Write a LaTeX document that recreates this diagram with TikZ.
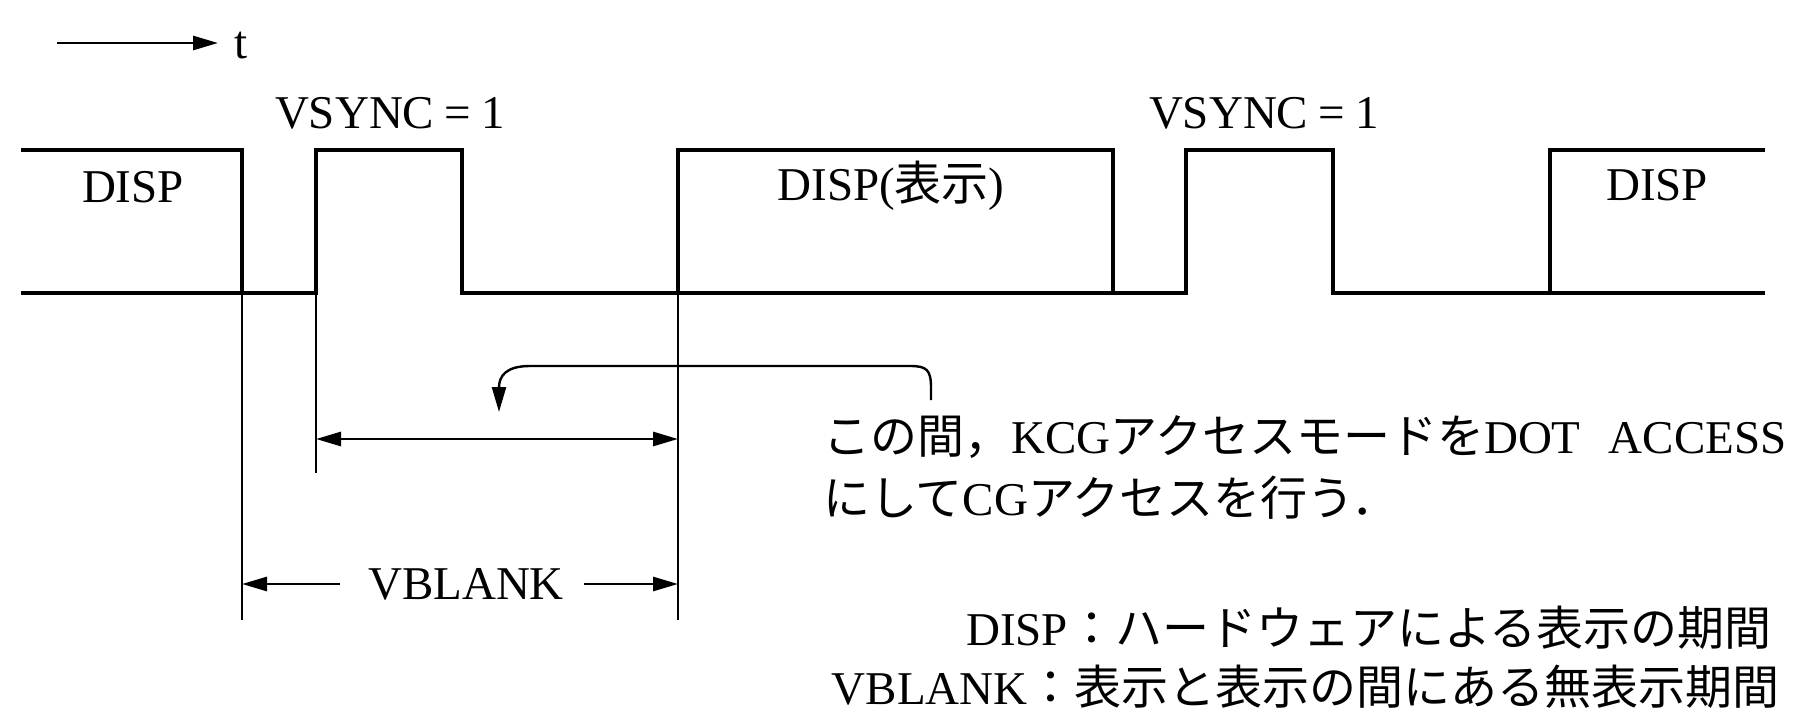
\documentclass[tikz,border=0pt]{standalone}
\usepackage{fontspec}
\setmainfont{Liberation Serif}
\newfontfamily\jpfont{Noto Sans CJK JP}
\usetikzlibrary{arrows.meta}
\newcommand\ja[1]{{\jpfont #1}}
\begin{document}
\begin{tikzpicture}[x=1pt,y=-1pt,
  wave/.style={line width=3.4pt, line join=miter},
  guide/.style={line width=2.4pt},
  dimline/.style={line width=2.8pt},
  tipend/.style={-{Triangle[length=25pt,width=14pt]}},
  tipboth/.style={{Triangle[length=25pt,width=14pt]}-{Triangle[length=25pt,width=14pt]}},
  lbl/.style={inner sep=0pt, font=\fontsize{47}{56}\selectfont},
]
\useasboundingbox (0,0) rectangle (1799,718);
% time arrow
\coordinate (ta) at (57,43);
\coordinate (tb) at (218,43);
\draw[dimline,tipend] (ta) -- (tb);
\node[lbl,anchor=base west] (t) at (234,58) {t};
% VSYNC + baseline
\coordinate (b0) at (21,293);
\coordinate (v1r) at (316,150);
\coordinate (v1f) at (462,293);
\coordinate (v2r) at (1186,150);
\coordinate (v2f) at (1333,293);
\coordinate (b1) at (1765,293);
\draw[wave] (b0) -| (v1r) -| (v1f) -| (v2r) -| (v2f) -- (b1);
% DISP boxes
\coordinate (d0) at (21,150);
\coordinate (d1f) at (242,293);
\draw[wave] (d0) -| (d1f);
\coordinate (d2r) at (678,293);
\coordinate (d2t) at (1113,150);
\coordinate (d2f) at (1113,293);
\draw[wave] (d2r) |- (d2t) -- (d2f);
\coordinate (d3r) at (1550,293);
\coordinate (d3e) at (1765,150);
\draw[wave] (d3r) |- (d3e);
% labels on waveform
\node[lbl,anchor=base] (vs1) at (390,128) {VSYNC\kern0.22em=\kern0.22em1};
\node[lbl,anchor=base] (vs2) at (1264,128) {VSYNC\kern0.22em=\kern0.22em1};
\node[lbl,anchor=base] (disp1) at (133,202) {DISP};
\node[lbl,anchor=base] (disp2) at (891,200) {DISP(\ja{表示})};
\node[lbl,anchor=base] (disp3) at (1657,200) {DISP};
% guide lines
\coordinate (g1b) at (242,620);
\coordinate (g2t) at (316,293);
\coordinate (g2b) at (316,473);
\coordinate (g3b) at (678,620);
\draw[guide] (d1f) -- (g1b);
\draw[guide] (g2t) -- (g2b);
\draw[guide] (d2r) -- (g3b);
% access period arrow
\coordinate (aa) at (316,439);
\coordinate (ab) at (678,439);
\draw[dimline,tipboth] (aa) -- (ab);
% VBLANK arrows
\node[lbl,anchor=base] (vb) at (466,599) {VBLANK};
\coordinate (vbl) at (242,584);
\coordinate (vbr) at (678,584);
\draw[dimline,tipend] (vb.west |- vbl) ++(-28,0) -- (vbl);
\draw[dimline,tipend] (vb.east |- vbr) ++(20,0) -- (vbr);
% curved pointer
\coordinate (cs) at (931,400);
\coordinate (ce) at (499,412);
\draw[guide,tipend] (cs) -- (931,388) .. controls (931,370) and (927,366) .. (910,366)
  -- (530,366) .. controls (506,366) and (499,376) .. (ce);
% note text
\node[lbl,anchor=base west] (note1) at (823,453)
  {\ja{この間，}KCG\ja{アクセスモードを}DOT\hspace{0.6em}ACCESS};
\node[lbl,anchor=base west] (note2) at (823,515)
  {\ja{にして}CG\ja{アクセスを行う．}};
% legend
\node[lbl,anchor=base west] (leg1) at (966,645) {DISP\ja{：ハードウェアによる表示の期間}};
\node[lbl,anchor=base east] (leg2) at (1780,704) {VBLANK\ja{：表示と表示の間にある無表示期間}};
\end{tikzpicture}
\end{document}
